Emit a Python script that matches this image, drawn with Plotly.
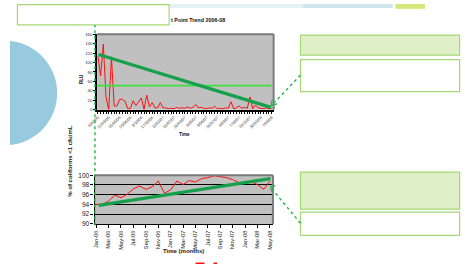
import math
import plotly.graph_objects as go

W, H = 465, 275

# ---------------- data ----------------
rlu_tick_labels = ["8/02/06", "22/03/06", "15/05/06", "29/06/06", "3/10/06", "17/10/06",
                   "11/01/07", "16/02/07", "26/03/07", "3/05/07", "9/06/07", "26/07/07",
                   "3/09/07", "7/10/07", "26/11/07", "30/01/08", "7/03/08"]
rlu_values = [114, 72, 139, 27, 0, 112, 8, 8, 22, 22,
              18, 2, 3, 19, 9, 17, 25, 1, 31, 6,
              15, 4, 4, 15, 4, 4, 2, 3, 2, 5,
              3, 4, 3, 6, 3, 5, 11, 4, 5, 3,
              2, 4, 3, 7, 2, 3, 2, 4, 3, 17,
              2, 4, 8, 3, 5, 3, 27, 2, 10, 4,
              3, 2, 4, 2, 3]
rlu_trend_x = [0.25, 63.7]
rlu_trend_y = [117, 5]
rlu_limit = 51

months = ["Jan-06", "Feb-06", "Mar-06", "Apr-06", "May-06", "Jun-06", "Jul-06", "Aug-06",
          "Sep-06", "Oct-06", "Nov-06", "Dec-06", "Jan-07", "Feb-07", "Mar-07", "Apr-07",
          "May-07", "Jun-07", "Jul-07", "Aug-07", "Sep-07", "Oct-07", "Nov-07", "Dec-07",
          "Jan-08", "Feb-08", "Mar-08", "Apr-08", "May-08"]
coliform = [94.0, 94.0, 94.7, 95.9, 95.4, 96.1, 97.2, 97.8, 97.1, 97.6,
            98.8, 96.3, 97.0, 98.8, 98.1, 98.9, 98.6, 99.3, 99.5, 99.9,
            99.7, 99.5, 99.1, 98.5, 98.5, 98.6, 98.1, 97.1, 98.8]
col_trend_x = [0.4, 28.1]
col_trend_y = [93.8, 99.3]

# ---------------- helpers ----------------
def px(x):
    return x / W

def py(y):
    return 1 - y / H

RED = "#ff1010"
DKGREEN = "#16a04c"
LIME = "#3ee03e"
DOT = "#22b54e"
BOXLINE = "#a5d874"
BOXFILL = "#dff0c9"
GRAYBG = "#c0c0c0"
FONT = "Liberation Sans, Arial, sans-serif"

n_rlu = len(rlu_values)
rlu_x = list(range(n_rlu))
rlu_tickvals = rlu_x[::4][:len(rlu_tick_labels)]
col_x = list(range(len(months)))

fig = go.Figure()

fig.add_trace(go.Scatter(x=rlu_x, y=rlu_values, mode="lines",
                         line=dict(color=RED, width=1), xaxis="x", yaxis="y"))
fig.add_trace(go.Scatter(x=[rlu_x[0] - 0.25, rlu_x[-1]], y=[rlu_limit, rlu_limit], mode="lines",
                         line=dict(color=LIME, width=1.6), xaxis="x", yaxis="y"))
fig.add_trace(go.Scatter(x=rlu_trend_x, y=rlu_trend_y, mode="lines",
                         line=dict(color=DKGREEN, width=3.2), xaxis="x", yaxis="y"))

fig.add_trace(go.Scatter(x=col_x, y=coliform, mode="lines",
                         line=dict(color=RED, width=1), xaxis="x2", yaxis="y2"))
fig.add_trace(go.Scatter(x=col_trend_x, y=col_trend_y, mode="lines",
                         line=dict(color=DKGREEN, width=3.2), xaxis="x2", yaxis="y2"))

shapes = []

# plot area borders (top/right dark grey)
for xr, yr in (("x domain", "y domain"), ("x2 domain", "y2 domain")):
    shapes.append(dict(type="line", xref=xr, yref=yr, x0=0, x1=1, y0=1, y1=1,
                       line=dict(color="#7a7a7a", width=2)))
    shapes.append(dict(type="line", xref=xr, yref=yr, x0=1, x1=1, y0=0, y1=1,
                       line=dict(color="#7a7a7a", width=2)))

# top banner strip
shapes.append(dict(type="rect", xref="paper", yref="paper", x0=px(163), x1=px(300), y0=py(4), y1=py(0),
                   fillcolor="#e6f1f5", line=dict(width=0), layer="below"))
shapes.append(dict(type="rect", xref="paper", yref="paper", x0=px(300), x1=px(392), y0=py(4), y1=py(0),
                   fillcolor="#cfe5ee", line=dict(width=0), layer="below"))
shapes.append(dict(type="rect", xref="paper", yref="paper", x0=px(395), x1=px(425), y0=py(5), y1=py(0),
                   fillcolor="#d4e87a", line=dict(width=0), layer="below"))

# light blue circle, clipped at the left page edge
cx, cy, r = -5.4, 91.35, 53.7
half = math.acos(-cx / r)
pts = []
for k in range(41):
    a = -half + 2 * half * k / 40
    pts.append((cx + r * math.cos(a), cy + r * math.sin(a)))
circ_path = "M " + " L ".join(f"{px(max(x, 0))},{py(y)}" for x, y in pts) + " Z"
shapes.append(dict(type="path", xref="paper", yref="paper", path=circ_path,
                   fillcolor="#97c9df", line=dict(width=0), layer="below"))

# top-left white box
shapes.append(dict(type="rect", xref="paper", yref="paper", x0=px(7.6), x1=px(163), y0=py(21.5), y1=py(0.6),
                   fillcolor="white", line=dict(color=BOXLINE, width=1.2)))

# right boxes
for (y0, y1, fill) in ((32, 52.5, BOXFILL), (57, 90, "white"), (172.5, 210.5, BOXFILL), (213.5, 237.5, "white")):
    shapes.append(dict(type="rect", xref="paper", yref="paper", x0=px(297.5), x1=px(460.5),
                       y0=py(y1), y1=py(y0), fillcolor=fill, line=dict(color=BOXLINE, width=1.2)))

# vertical dotted green line
shapes.append(dict(type="line", xref="paper", yref="paper", x0=px(87), x1=px(87), y0=py(227), y1=py(21.5),
                   line=dict(color=DOT, width=1.4, dash="dot")))

# dotted arrows
shapes.append(dict(type="line", xref="paper", yref="paper", x0=px(297.5), y0=py(73), x1=px(269), y1=py(103),
                   line=dict(color=DOT, width=1.4, dash="dot")))
shapes.append(dict(type="path", xref="paper", yref="paper",
                   path=f"M {px(268.6)},{py(98)} L {px(267.5)},{py(104)} L {px(273.5)},{py(102.5)}",
                   line=dict(color=DOT, width=1.2)))
shapes.append(dict(type="line", xref="paper", yref="paper", x0=px(297.5), y0=py(225), x1=px(268.5), y1=py(190),
                   line=dict(color=DOT, width=1.4, dash="dot")))
shapes.append(dict(type="path", xref="paper", yref="paper",
                   path=f"M {px(271.5)},{py(186.3)} L {px(267)},{py(187.5)} L {px(268.3)},{py(193)}",
                   line=dict(color=DOT, width=1.2)))

# red legend fragment at bottom
shapes.append(dict(type="line", xref="paper", yref="paper", x0=px(190), x1=px(212), y0=py(266), y1=py(266),
                   line=dict(color=RED, width=1.6, dash="dash")))

annotations = [
    dict(text="<b>t Point Trend 2006-08</b>", x=px(163), y=py(16), xref="paper", yref="paper",
         xanchor="left", yanchor="middle", showarrow=False, font=dict(size=5.4, color="#111", family=FONT)),
    dict(text="<b>RLU</b>", x=px(68), y=py(70), xref="paper", yref="paper", textangle=-90,
         showarrow=False, font=dict(size=4.6, color="#111", family=FONT)),
    dict(text="<b>Time</b>", x=px(179), y=py(134.3), xref="paper", yref="paper",
         showarrow=False, font=dict(size=4.6, color="#111", family=FONT)),
    dict(text="<b>% of coliforms &lt;1 cfu/mL</b>", x=px(56.7), y=py(199.5), xref="paper", yref="paper",
         textangle=-90, showarrow=False, font=dict(size=6, color="#222", family=FONT)),
    dict(text="<b>Time (months)</b>", x=px(177.7), y=py(258.7), xref="paper", yref="paper",
         showarrow=False, font=dict(size=6, color="#222", family=FONT)),
]

fig.update_layout(
    width=W, height=H,
    margin=dict(l=0, r=0, t=0, b=0),
    paper_bgcolor="white",
    plot_bgcolor=GRAYBG,
    showlegend=False,
    font=dict(family=FONT, color="#222"),
    xaxis=dict(domain=[px(89.3), px(270)], range=[-0.25, 64.7], anchor="y",
               tickmode="array", tickvals=rlu_tickvals, ticktext=rlu_tick_labels,
               tickangle=-45, tickfont=dict(size=4, color="#333"),
               showgrid=False, zeroline=False, showline=True, linecolor="black", linewidth=1.6,
               ticks="outside", ticklen=2, tickcolor="black",
               minor=dict(dtick=1, tick0=0, ticks="outside", ticklen=2, tickcolor="black", showgrid=False)),
    yaxis=dict(domain=[py(108.5), py(31)], range=[0, 160], anchor="x",
               tickmode="array", tickvals=[0, 20, 40, 60, 80, 100, 120, 140, 160],
               tickfont=dict(size=4.4, color="#333"),
               showgrid=False, zeroline=False, showline=True, linecolor="black", linewidth=1.6,
               ticks="outside", ticklen=2, tickcolor="black"),
    xaxis2=dict(domain=[px(86.7), px(269.3)], range=[-0.25, 28.5], anchor="y2",
                tickmode="array", tickvals=col_x[::2], ticktext=months[::2],
                tickangle=-90, tickfont=dict(size=5.8, color="#222"),
                showgrid=False, zeroline=False, showline=True, linecolor="black", linewidth=1.4,
                ticks="outside", ticklen=3, tickcolor="black"),
    yaxis2=dict(domain=[py(225.7), py(175.7)], range=[90, 100], anchor="x2",
                tickmode="array", tickvals=[90, 92, 94, 96, 98, 100],
                tickfont=dict(size=6.5, color="#222"),
                showgrid=True, gridcolor="black", gridwidth=1,
                zeroline=False, showline=True, linecolor="black", linewidth=1.4,
                ticks="outside", ticklen=3, tickcolor="black"),
    shapes=shapes,
    annotations=annotations,
)

fig.write_html("out.html", config={"displayModeBar": False},
               post_script="document.body.style.margin='0';document.body.style.padding='0';"
                           "document.body.style.overflow='hidden';")
